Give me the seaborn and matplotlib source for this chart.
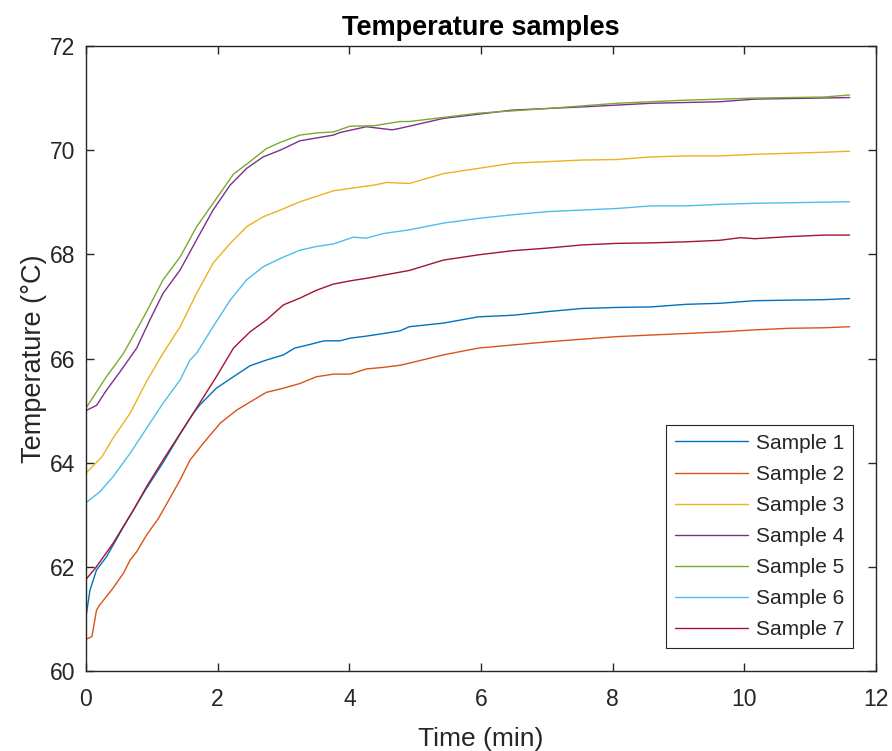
import numpy as np
import pandas as pd
import matplotlib
matplotlib.use("Agg")
import matplotlib.pyplot as plt
import seaborn as sns

labels = ["Sample 1", "Sample 2", "Sample 3", "Sample 4", "Sample 5", "Sample 6", "Sample 7"]
colors = ["#0072BD", "#D95319", "#EDB120", "#7E2F8E", "#77AC30", "#4DBEEE", "#A2142F"]

t1 = [0, 0.06, 0.16, 0.31, 0.57, 0.72, 0.9, 1.17, 1.43, 1.63, 1.73, 1.98, 2.24, 2.49, 2.74, 3.0, 3.17, 3.37,
      3.62, 3.86, 4.01, 4.26, 4.52, 4.77, 4.91, 5.43, 5.96, 6.48, 7.01, 7.53, 8.06, 8.58, 9.11, 9.63, 10.16,
      10.68, 11.21, 11.6]
s1 = [61.04, 61.55, 61.94, 62.19, 62.77, 63.09, 63.47, 64.0, 64.55, 64.95, 65.11, 65.43, 65.65, 65.86, 65.97,
      66.07, 66.20, 66.26, 66.34, 66.34, 66.39, 66.43, 66.48, 66.53, 66.61, 66.68, 66.80, 66.83, 66.90, 66.96,
      66.98, 66.99, 67.04, 67.06, 67.11, 67.12, 67.13, 67.15]

t2 = [0, 0.09, 0.16, 0.21, 0.41, 0.57, 0.67, 0.77, 0.92, 1.10, 1.23, 1.43, 1.58, 1.78, 2.04, 2.29, 2.54, 2.74,
      3.0, 3.25, 3.5, 3.76, 4.01, 4.26, 4.52, 4.77, 4.91, 5.43, 5.96, 6.48, 7.01, 7.53, 8.06, 8.58, 9.11, 9.63,
      10.16, 10.68, 11.21, 11.6]
s2 = [60.61, 60.66, 61.17, 61.27, 61.59, 61.88, 62.13, 62.29, 62.61, 62.93, 63.22, 63.67, 64.05, 64.37, 64.76,
      65.01, 65.20, 65.35, 65.43, 65.52, 65.65, 65.70, 65.70, 65.80, 65.83, 65.87, 65.91, 66.07, 66.20, 66.26,
      66.32, 66.37, 66.42, 66.45, 66.48, 66.51, 66.55, 66.58, 66.59, 66.61]

t3 = [0, 0.24, 0.41, 0.67, 0.92, 1.17, 1.43, 1.68, 1.93, 2.19, 2.44, 2.69, 2.95, 3.25, 3.76, 4.26, 4.38, 4.57,
      4.91, 5.43, 5.96, 6.48, 7.01, 7.53, 8.06, 8.58, 9.11, 9.63, 10.16, 10.68, 11.21, 11.6]
s3 = [63.80, 64.11, 64.47, 64.95, 65.56, 66.10, 66.61, 67.25, 67.83, 68.21, 68.53, 68.72, 68.85, 69.01, 69.22,
      69.31, 69.33, 69.38, 69.36, 69.55, 69.65, 69.75, 69.78, 69.81, 69.82, 69.87, 69.89, 69.89, 69.92, 69.94,
      69.96, 69.98]

t4 = [0, 0.16, 0.31, 0.52, 0.77, 0.97, 1.17, 1.43, 1.68, 1.93, 2.19, 2.44, 2.69, 2.95, 3.25, 3.76, 3.86, 4.26,
      4.65, 4.77, 5.43, 6.48, 7.53, 8.58, 9.63, 10.16, 11.6]
s4 = [65.0, 65.1, 65.39, 65.75, 66.20, 66.74, 67.25, 67.70, 68.28, 68.85, 69.33, 69.65, 69.87, 70.0, 70.18,
      70.29, 70.34, 70.45, 70.39, 70.42, 70.61, 70.77, 70.83, 70.90, 70.93, 70.98, 71.01]

t5 = [0, 0.31, 0.57, 0.9, 1.17, 1.43, 1.68, 1.93, 2.24, 2.49, 2.74, 2.95, 3.25, 3.5, 3.76, 4.01, 4.38, 4.77,
      4.91, 5.96, 7.01, 8.06, 9.11, 10.16, 11.21, 11.6]
s5 = [65.05, 65.65, 66.10, 66.85, 67.51, 67.95, 68.53, 68.98, 69.54, 69.78, 70.03, 70.15, 70.29, 70.33, 70.35,
      70.46, 70.47, 70.55, 70.55, 70.71, 70.80, 70.90, 70.96, 71.0, 71.02, 71.06]

t6 = [0, 0.21, 0.41, 0.67, 0.92, 1.17, 1.43, 1.58, 1.68, 1.93, 2.19, 2.44, 2.69, 2.95, 3.25, 3.5, 3.76, 4.06,
      4.26, 4.52, 4.91, 5.43, 5.96, 6.48, 7.01, 7.53, 8.06, 8.58, 9.11, 9.63, 10.16, 10.68, 11.6]
s6 = [63.23, 63.44, 63.73, 64.18, 64.66, 65.14, 65.59, 65.97, 66.10, 66.61, 67.12, 67.51, 67.76, 67.92, 68.08,
      68.15, 68.20, 68.33, 68.31, 68.40, 68.47, 68.60, 68.69, 68.76, 68.82, 68.85, 68.88, 68.93, 68.93, 68.96,
      68.98, 68.99, 69.01]

t7 = [0, 0.14, 0.41, 0.72, 0.92, 1.17, 1.43, 1.63, 1.73, 1.98, 2.24, 2.49, 2.74, 3.0, 3.25, 3.5, 3.76, 4.01,
      4.26, 4.52, 4.91, 5.43, 5.96, 6.48, 7.01, 7.53, 8.06, 8.58, 9.11, 9.63, 9.94, 10.16, 10.68, 11.21, 11.6]
s7 = [61.76, 61.97, 62.45, 63.09, 63.54, 64.05, 64.56, 64.95, 65.15, 65.65, 66.20, 66.51, 66.74, 67.03, 67.16,
      67.31, 67.43, 67.49, 67.54, 67.60, 67.69, 67.89, 67.99, 68.07, 68.12, 68.18, 68.21, 68.22, 68.24, 68.27,
      68.32, 68.30, 68.34, 68.37, 68.37]

times = [t1, t2, t3, t4, t5, t6, t7]
temps = [s1, s2, s3, s4, s5, s6, s7]

xticks = [0, 2, 4, 6, 8, 10, 12]
yticks = [60, 62, 64, 66, 68, 70, 72]

frames = [pd.DataFrame({"Time": t, "Temp": s, "Sample": lab}) for t, s, lab in zip(times, temps, labels)]
df = pd.concat(frames, ignore_index=True)

sns.set_style("white")
plt.rcParams["font.family"] = ["Liberation Sans", "DejaVu Sans"]

fig = plt.figure(figsize=(8.92, 7.51), dpi=100)
ax = fig.add_axes([86 / 892, 1 - 671 / 751, (876 - 86) / 892, (671 - 46) / 751])

sns.lineplot(data=df, x="Time", y="Temp", hue="Sample", palette=colors, sort=False,
             estimator=None, linewidth=1.0, ax=ax)

ax.set_xlim(0, 12)
ax.set_ylim(60, 72)
ax.set_xticks(xticks)
ax.set_yticks(yticks)
axc = "#262626"
for sp in ax.spines.values():
    sp.set_color(axc)
    sp.set_linewidth(1.0)
ax.tick_params(direction="in", length=6, width=1.0, colors=axc, labelsize=16.5,
               top=True, right=True, bottom=True, left=True)
ax.tick_params(axis="x", pad=12)
ax.tick_params(axis="y", pad=8)
ax.set_xlabel("Time (min)", fontsize=19, color=axc, labelpad=12)
ax.set_ylabel("Temperature (°C)", fontsize=19.5, color=axc, labelpad=2)
ax.set_title("Temperature samples", fontsize=19.5, fontweight="bold", color="black", pad=8)

leg = ax.legend(loc="lower right", bbox_to_anchor=(853 / 892, 1 - 648 / 751),
                bbox_transform=fig.transFigure, fontsize=15, frameon=True, fancybox=False,
                framealpha=1, edgecolor="#262626", handlelength=3.5, handletextpad=0.4,
                labelspacing=0.58, borderpad=0.42, borderaxespad=0)
leg.get_frame().set_linewidth(0.8)
for line in leg.get_lines():
    line.set_linewidth(1.0)

fig.savefig("out.png", dpi=100, facecolor="white")
